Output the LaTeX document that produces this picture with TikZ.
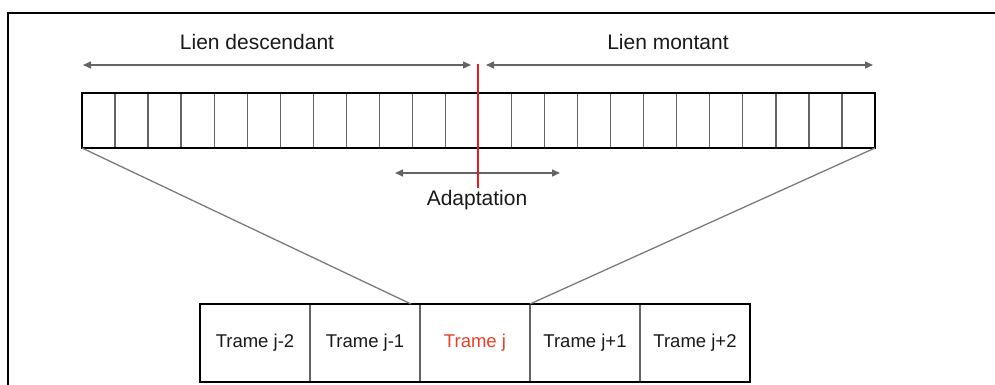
\documentclass[tikz,border=0pt]{standalone}
\usepackage{fontspec}
\setmainfont{Liberation Sans}
\usetikzlibrary{positioning, arrows.meta}
\definecolor{splitred}{RGB}{228,28,28}
\definecolor{trameRed}{RGB}{232,64,42}
\definecolor{linegray}{RGB}{100,100,100}

\begin{document}
\begin{tikzpicture}[
		x = 1pt, y = -1pt,
		every node/.style = {text = black!90, font = \fontsize{21}{25}\selectfont},
		frame/.style = {draw = linegray, line width = 1.3pt, minimum width = 110pt, minimum height = 78pt,
			inner sep = 0pt, outer sep = 0pt, font = \fontsize{18.5}{22}\selectfont},
		border/.style = {line width = 2.5pt},
		divider/.style = {draw = linegray, line width = 1.3pt},
		span/.style = {draw = linegray, line width = 1.4pt, {Triangle[length = 8pt, width = 7pt]}-{Triangle[length = 8pt, width = 7pt]}},
		zoomline/.style = {draw = linegray!85, line width = 1.3pt}
		]
		\useasboundingbox (0,0) rectangle (995,385);
		% outer frame
		\draw[line width = 2.8pt] (8,385) -- (8,13) -- (995,13);
		
		% long strip of frames
		\node[minimum width = 793pt, minimum height = 55pt, inner sep = 0pt, outer sep = 0pt] (strip) at (478.5,120.5) {};
		\foreach \i in {1,...,23}
			\draw[divider] ([xshift = \i*33.04pt]strip.north west) -- ([xshift = \i*33.04pt]strip.south west);
		\draw[border] (strip.north west) rectangle (strip.south east);
		
		% downlink / uplink
		\coordinate (dl) at (83,65);
		\coordinate (dr) at (471,65);
		\coordinate (ul) at (486,65);
		\coordinate (ur) at (873,65);
		\draw[span] (dl) -- (dr);
		\draw[span] (ul) -- (ur);
		\node (down) at (257,42) {Lien descendant};
		\node (up) at (668,42) {Lien montant};
		
		% adaptation
		\coordinate (al) at (395,173);
		\coordinate (ar) at (560,173);
		\draw[span] (al) -- (ar);
		\node (adapt) at (477,200) {Adaptation};
		\coordinate (redtop) at (478,64);
		\coordinate (redbot) at (478,188);
		\draw[splitred, line width = 2pt] (redtop) -- (redbot);
		
		% frames j-2 ... j+2
		\node[frame] (T1) at (255,343) {Trame j-2};
		\node[frame, right = 0pt of T1] (T2) {Trame j-1};
		\node[frame, right = 0pt of T2, text = trameRed] (T3) {Trame j};
		\node[frame, right = 0pt of T3] (T4) {Trame j+1};
		\node[frame, right = 0pt of T4] (T5) {Trame j+2};
		\draw[border] (T1.north west) rectangle (T5.south east);
		
		% zoom lines
		\coordinate (zl) at (411,304);
		\draw[zoomline] (strip.south west) -- (zl);
		\draw[zoomline] (strip.south east) -- (T4.north west);
	\end{tikzpicture}
\end{document}
